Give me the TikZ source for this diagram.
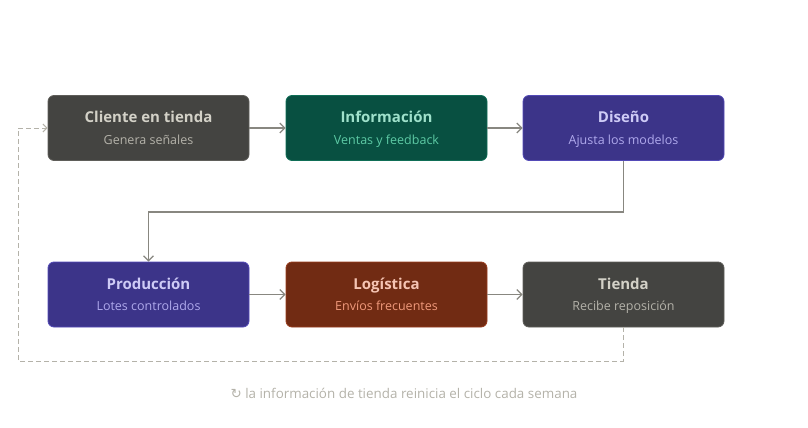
\documentclass[tikz,border=0pt]{standalone}
\usepackage{fontspec}
\setmainfont{Open Sans}
\newfontfamily\symfont{DejaVu Sans}
\usetikzlibrary{arrows.meta}
\definecolor{grayfill}{HTML}{444441}
\definecolor{grayline}{HTML}{5F5E5A}
\definecolor{graytitle}{HTML}{D3D1C7}
\definecolor{graysub}{HTML}{B4B2A9}
\definecolor{tealfill}{HTML}{085041}
\definecolor{tealline}{HTML}{0F6E56}
\definecolor{tealtitle}{HTML}{9FE1CB}
\definecolor{tealsub}{HTML}{5DCAA5}
\definecolor{purplefill}{HTML}{3C3489}
\definecolor{purpleline}{HTML}{534AB7}
\definecolor{purpletitle}{HTML}{CECBF6}
\definecolor{purplesub}{HTML}{AFA9EC}
\definecolor{coralfill}{HTML}{712B13}
\definecolor{coralline}{HTML}{993C1D}
\definecolor{coraltitle}{HTML}{F5C4B3}
\definecolor{coralsub}{HTML}{F0997B}
\definecolor{flowcolor}{HTML}{888780}
\definecolor{loopcolor}{HTML}{B4B2A9}
\newcommand{\stagetext}[3]{%
  {\fontsize{15}{18}\selectfont\bfseries\color{#1title}\vphantom{Ég}#2}\\[5pt]%
  {\fontsize{12.5}{15}\selectfont\color{#1sub}\vphantom{Ég}#3}}
\tikzset{
  stage/.style={rectangle, rounded corners=6pt, line width=0.8pt,
                draw=#1line, fill=#1fill, minimum width=201pt,
                minimum height=65pt, align=center, inner sep=0pt},
  flow/.style={draw=flowcolor, line width=1.3pt,
               -{Straight Barb[length=5pt,width=10pt,line width=1.2pt]}},
  loopback/.style={draw=loopcolor, line width=1pt, dash pattern=on 5pt off 3pt,
               -{Straight Barb[length=4pt,width=8pt,line width=1pt]}}
}

\begin{document}
\begin{tikzpicture}[x=1pt,y=-1pt]
    \useasboundingbox (0,0) rectangle (808,428);

    % --- fila superior ---
    \node[stage=gray]   (cliente) at (148.5,128) {\stagetext{gray}{Cliente en tienda}{Genera señales}};
    \node[stage=teal]   (info)    at (386.5,128) {\stagetext{teal}{Información}{Ventas y feedback}};
    \node[stage=purple] (diseno)  at (623.5,128) {\stagetext{purple}{Diseño}{Ajusta los modelos}};

    % --- fila inferior ---
    \node[stage=purple] (produccion) at (148.5,294.5) {\stagetext{purple}{Producción}{Lotes controlados}};
    \node[stage=coral]  (logistica)  at (386.5,294.5) {\stagetext{coral}{Logística}{Envíos frecuentes}};
    \node[stage=gray]   (tienda)     at (623.5,294.5) {\stagetext{gray}{Tienda}{Recibe reposición}};

    \draw[flow] (cliente) -- (info);
    \draw[flow] (info) -- (diseno);
    \draw[flow] (diseno.south) -- ++(0,51) -| (produccion.north);
    \draw[flow] (produccion) -- (logistica);
    \draw[flow] (logistica) -- (tienda);

    % ciclo semanal
    \coordinate (loopdown) at (623.5,361);
    \coordinate (loopleft) at (18,361);
    \draw[loopback] (tienda.south) -- (loopdown) -- (loopleft) |- (cliente.west);

    \node[text=loopcolor, font=\fontsize{13.4}{16}\selectfont] (nota) at (404,393)
        {{\symfont ↻} la información de tienda reinicia el ciclo cada semana};
\end{tikzpicture}
\end{document}
